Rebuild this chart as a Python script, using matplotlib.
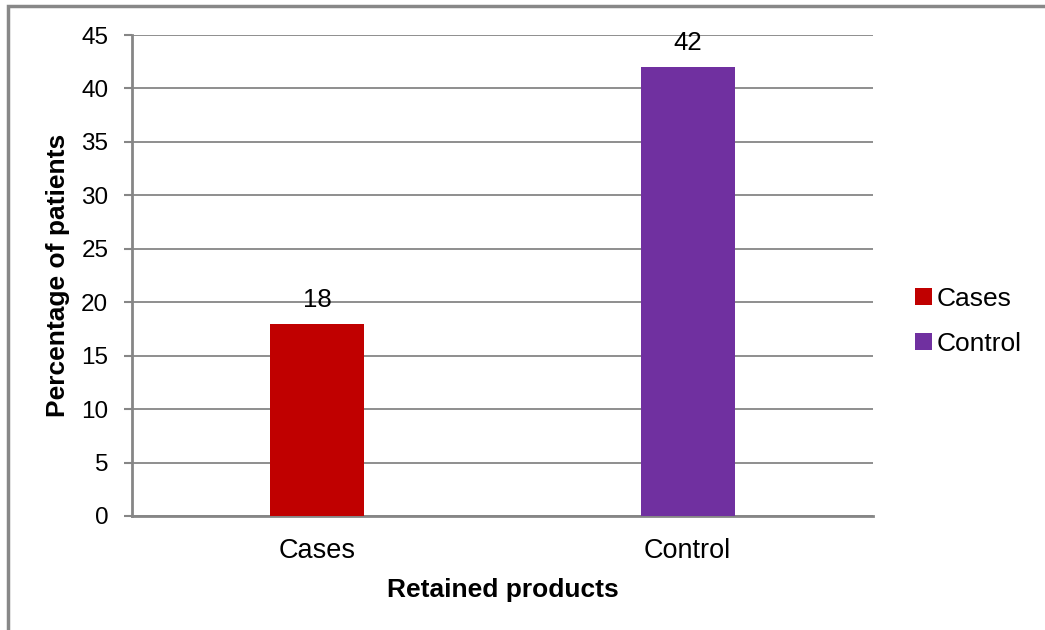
import matplotlib.pyplot as plt
from matplotlib.patches import Rectangle, Patch

plt.rcParams['font.family'] = ['Liberation Sans', 'DejaVu Sans']

categories = ['Cases', 'Control']
values = [18, 42]
colors = ['#C00000', '#7030A0']
yticks = [0, 5, 10, 15, 20, 25, 30, 35, 40, 45]

grid_gray = '#868686'

fig = plt.figure(figsize=(10.45, 6.3), dpi=100)
ax = fig.add_axes([0.1263, 0.181, 0.7091, 0.7634])

x = range(len(categories))
bars = ax.bar(x, values, width=0.254, color=colors, zorder=3)

for rect, v in zip(bars, values):
    ax.annotate(str(v), (rect.get_x() + rect.get_width() / 2, v),
                xytext=(0, 17), textcoords='offset points',
                ha='center', va='center', fontsize=18.5)

ax.set_xlim(-0.5, 1.5)
ax.set_ylim(0, 45)
ax.set_yticks(yticks)
ax.set_xticks(list(x))
ax.set_xticklabels(categories)
ax.tick_params(axis='y', length=6, width=1.5, color=grid_gray, labelsize=17.5, pad=11)
ax.tick_params(axis='x', length=0, labelsize=19.5, pad=16)
ax.yaxis.grid(True, color=grid_gray, linewidth=1.3, zorder=0)
ax.set_axisbelow(True)

for side in ['top', 'right']:
    ax.spines[side].set_visible(False)
for side in ['left', 'bottom']:
    ax.spines[side].set_color(grid_gray)
    ax.spines[side].set_linewidth(2)

ax.set_ylabel('Percentage of patients', fontsize=19, fontweight='bold', labelpad=8)
ax.set_xlabel('Retained products', fontsize=19, fontweight='bold', labelpad=10)

handles = [Patch(facecolor=c, label=l) for c, l in zip(colors, categories)]
ax.legend(handles=handles, loc='center left', bbox_to_anchor=(1.024, 0.405),
          frameon=False, fontsize=19, handlelength=0.65, handleheight=0.65,
          handletextpad=0.2, labelspacing=0.8)

# chart frame
fig.patches.append(Rectangle((8 / 1045, -0.1), 1.2, (630 - 6) / 630 + 0.1,
                             transform=fig.transFigure, fill=False,
                             edgecolor='#888888', linewidth=2.5))

fig.savefig('out.png', dpi=100)
